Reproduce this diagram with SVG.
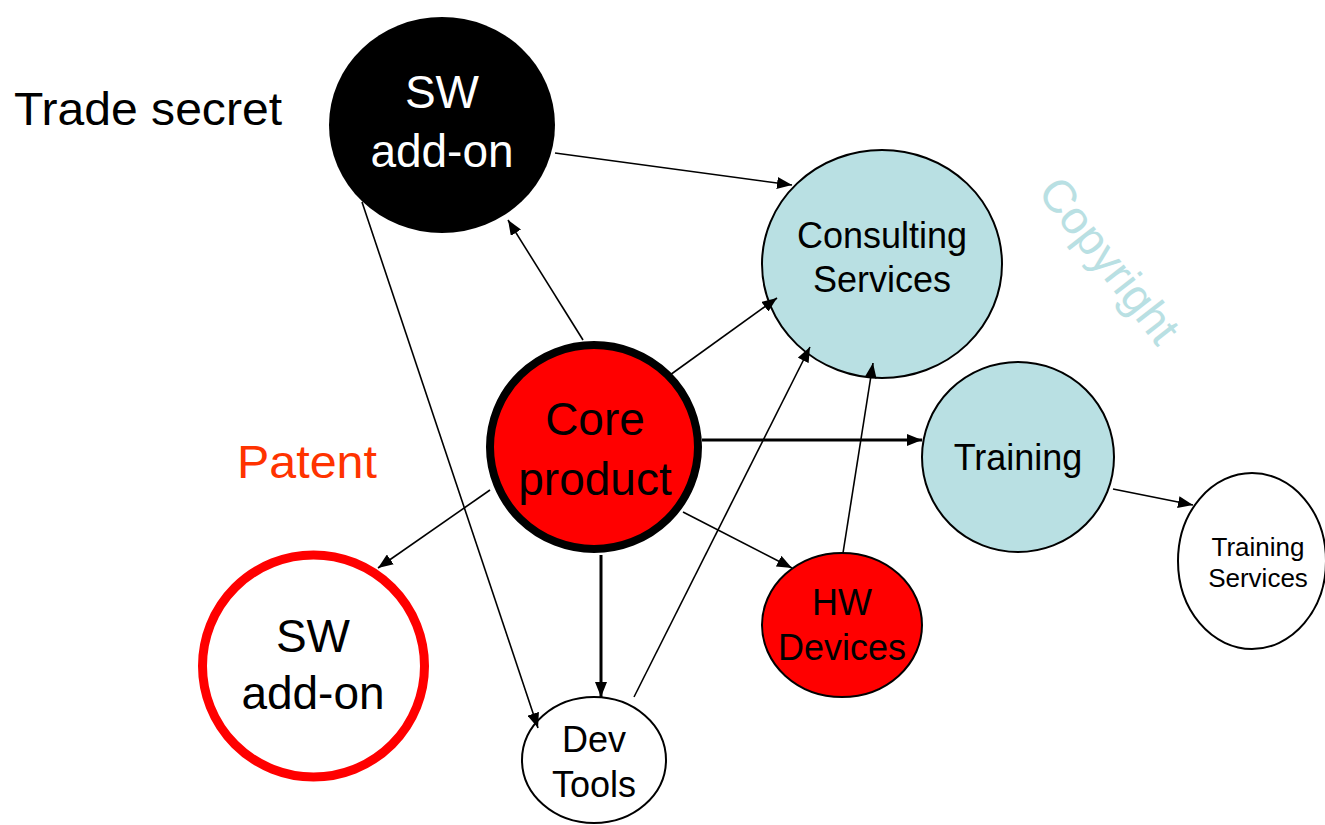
<svg xmlns="http://www.w3.org/2000/svg" width="1325" height="825" viewBox="0 0 1325 825">
<defs>
<marker id="arr" markerUnits="userSpaceOnUse" markerWidth="16" markerHeight="12" refX="15" refY="6" orient="auto">
<path d="M0,0 L15,6 L0,12 z" fill="#000"/>
</marker>
<style>
.lbl{font-family:"Liberation Sans",Arial,sans-serif;text-anchor:middle}
.big{font-size:46px}
.mid{font-size:36px}
.con{stroke:#000;stroke-width:1.6;fill:none;marker-end:url(#arr)}
.thick{stroke-width:3}
.blue{fill:#B9E0E3;stroke:#000;stroke-width:2}
</style>
</defs>
<rect width="1325" height="825" fill="#fff"/>
<text class="lbl big" x="14" y="125" style="text-anchor:start" textLength="268" lengthAdjust="spacingAndGlyphs">Trade secret</text>
<text class="lbl big" x="307" y="478" fill="#FF3300" textLength="140" lengthAdjust="spacingAndGlyphs">Patent</text>
<text class="lbl big" transform="translate(1097,270) rotate(52)" fill="#B9E0E3">Copyright</text>

<g id="nodes">
<g id="sw-black">
<ellipse cx="442" cy="125" rx="113" ry="108" fill="#000"/>
<text class="lbl big" x="442" y="108" fill="#fff">SW</text>
<text class="lbl big" x="442" y="167" fill="#fff">add-on</text>
</g>
<g id="consulting">
<ellipse class="blue" cx="882" cy="264" rx="120" ry="114"/>
<text class="lbl mid" x="882" y="248">Consulting</text>
<text class="lbl mid" x="882" y="292">Services</text>
</g>
<g id="core">
<ellipse cx="594" cy="447" rx="104" ry="102" fill="#FF0000" stroke="#000" stroke-width="8"/>
<text class="lbl big" x="595" y="435">Core</text>
<text class="lbl big" x="595" y="495">product</text>
</g>
<g id="training">
<ellipse class="blue" cx="1018" cy="457" rx="96" ry="95"/>
<text class="lbl mid" x="1018" y="470">Training</text>
</g>
<g id="training-services">
<ellipse cx="1252" cy="561" rx="74" ry="88" fill="#fff" stroke="#000" stroke-width="2"/>
<text class="lbl" style="font-size:26px" x="1258" y="556">Training</text>
<text class="lbl" style="font-size:26px" x="1258" y="587">Services</text>
</g>
<g id="hw">
<ellipse cx="842" cy="625" rx="80" ry="72" fill="#FF0000" stroke="#000" stroke-width="2"/>
<text class="lbl mid" x="842" y="615">HW</text>
<text class="lbl mid" x="842" y="660">Devices</text>
</g>
<g id="sw-red">
<ellipse cx="313.5" cy="666" rx="111" ry="111" fill="#fff" stroke="#FF0000" stroke-width="9"/>
<text class="lbl big" x="313" y="652">SW</text>
<text class="lbl big" x="313" y="709">add-on</text>
</g>
<g id="devtools">
<ellipse cx="594" cy="760" rx="72" ry="63" fill="#fff" stroke="#000" stroke-width="2"/>
<text class="lbl mid" x="594" y="752">Dev</text>
<text class="lbl mid" x="594" y="797">Tools</text>
</g>
</g>

<g id="connectors">
<line class="con" x1="555" y1="153" x2="792" y2="185"/>
<line class="con" x1="583" y1="340" x2="508" y2="220"/>
<line class="con" x1="670" y1="375" x2="777" y2="298"/>
<line class="con thick" x1="702" y1="440" x2="922" y2="440"/>
<line class="con" x1="683" y1="512" x2="792" y2="568"/>
<line class="con thick" x1="601" y1="555" x2="601" y2="697"/>
<line class="con" x1="490" y1="490" x2="378" y2="568"/>
<line class="con" x1="362" y1="202" x2="538" y2="728"/>
<line class="con" x1="634" y1="697" x2="810" y2="347"/>
<line class="con" x1="843" y1="553" x2="873" y2="363"/>
<line class="con" x1="1113" y1="489" x2="1193" y2="505"/>
</g>
</svg>
